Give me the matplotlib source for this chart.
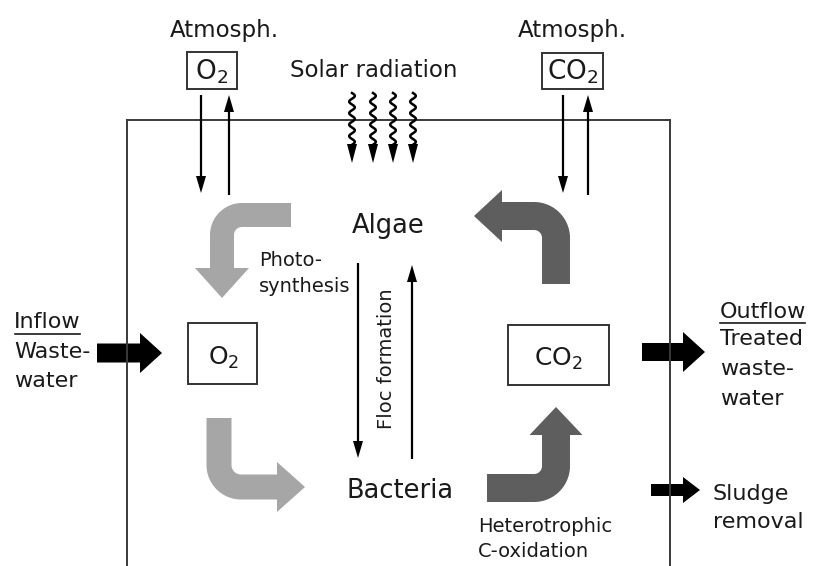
import numpy as np
import matplotlib
matplotlib.use("Agg")
import matplotlib.pyplot as plt
from matplotlib.patches import Polygon, Rectangle

# ---- diagram texts ----
atm_labels = ["Atmosph.", "Atmosph."]
atm_gases = ["O$_2$", "CO$_2$"]
solar_label = "Solar radiation"
organisms = ["Algae", "Bacteria"]
pool_gases = ["O$_2$", "CO$_2$"]
photo_label = ["Photo-", "synthesis"]
floc_label = "Floc formation"
hetero_label = ["Heterotrophic", "C-oxidation"]
inflow_lines = ["Inflow", "Waste-", "water"]
outflow_lines = ["Outflow", "Treated", "waste-", "water"]
sludge_lines = ["Sludge", "removal"]

plt.rcParams['font.family'] = ['DejaVu Sans']
plt.rcParams['mathtext.fontset'] = 'dejavusans'

W, H = 817, 566
fig = plt.figure(figsize=(W / 100, H / 100), dpi=100)
ax = fig.add_axes([0, 0, 1, 1])
ax.set_xlim(0, W)
ax.set_ylim(H, 0)
ax.axis('off')

LIGHT = '#a6a6a6'
DARK = '#5e5e5e'
TXT = '#1a1a1a'


def bent_arrow(p0, corner, p1, width, head_w, head_len, r, color):
    p0, c, p1 = (np.array(p, float) for p in (p0, corner, p1))
    d1 = (c - p0) / np.linalg.norm(c - p0)
    d2 = (p1 - c) / np.linalg.norm(p1 - c)
    a = c - d1 * r
    b = c + d2 * r
    o = a + d2 * r
    va, vb = a - o, b - o
    ang_a = np.arctan2(va[1], va[0])
    ang_b = np.arctan2(vb[1], vb[0])
    dang = (ang_b - ang_a + np.pi) % (2 * np.pi) - np.pi
    t = np.linspace(0, 1, 40)
    angs = ang_a + dang * t
    arc = o + r * np.stack([np.cos(angs), np.sin(angs)], 1)
    tan_arc = np.sign(dang) * np.stack([-np.sin(angs), np.cos(angs)], 1)
    pts = np.vstack([p0, arc, p1])
    tans = np.vstack([d1, tan_arc, d2])
    nrm = np.stack([-tans[:, 1], tans[:, 0]], 1)
    left = pts + nrm * width / 2
    right = pts - nrm * width / 2
    n2 = np.array([-d2[1], d2[0]])
    head = [p1 + n2 * head_w / 2, p1 + d2 * head_len, p1 - n2 * head_w / 2]
    poly = np.vstack([left, head, right[::-1]])
    ax.add_patch(Polygon(poly, closed=True, fc=color, ec='none'))


def block_arrow(x0, tip, y, shaft_h, head_w, head_len, color='black'):
    xb = tip - head_len
    poly = [(x0, y - shaft_h / 2), (xb, y - shaft_h / 2), (xb, y - head_w / 2),
            (tip, y), (xb, y + head_w / 2), (xb, y + shaft_h / 2), (x0, y + shaft_h / 2)]
    ax.add_patch(Polygon(poly, closed=True, fc=color, ec='none'))


def thin_arrow(x, y_tail, y_tip, hw=5, hl=17, lw=1.6):
    s = np.sign(y_tip - y_tail)
    yb = y_tip - s * hl
    ax.plot([x, x], [y_tail, yb + s * 2], color='black', lw=lw, solid_capstyle='butt')
    ax.add_patch(Polygon([(x - hw, yb), (x, y_tip), (x + hw, yb)], closed=True,
                         fc='black', ec='none'))


def wavy_arrow(x0, y0, y1, tip):
    yy = np.linspace(y0, y1, 120)
    xx = x0 + 2.8 * np.sin(2 * np.pi * (yy - y0) / 11.5)
    ax.plot(xx, yy, color='black', lw=1.8)
    ax.add_patch(Polygon([(x0 - 5, y1 - 1), (x0, tip), (x0 + 5, y1 - 1)], closed=True,
                         fc='black', ec='none'))


# ---- pond outline ----
ax.plot([127, 127], [120, H + 5], color='#3a3a3a', lw=1.4)
ax.plot([670, 670], [120, H + 5], color='#3a3a3a', lw=1.4)
ax.plot([127, 670], [120, 120], color='#3a3a3a', lw=1.4)

# ---- atmosphere ----
ax.text(224, 37, atm_labels[0], ha='center', va='baseline', fontsize=16.5, color=TXT)
ax.text(572, 37, atm_labels[1], ha='center', va='baseline', fontsize=16.5, color=TXT)
ax.add_patch(Rectangle((187, 52), 50, 37, fill=False, ec='#333333', lw=1.4))
ax.add_patch(Rectangle((542, 53), 61, 36, fill=False, ec='#333333', lw=1.4))
ax.text(212, 79, atm_gases[0], ha='center', va='baseline', fontsize=19, color=TXT)
ax.text(572.5, 79, atm_gases[1], ha='center', va='baseline', fontsize=19, color=TXT)
ax.text(290, 77, solar_label, ha='left', va='baseline', fontsize=16.5, color=TXT)

# gas exchange arrows
thin_arrow(201, 95, 193)
thin_arrow(229, 195, 95)
thin_arrow(563, 95, 193)
thin_arrow(588, 195, 95)

# solar radiation waves
for xw in [352, 373, 393, 413]:
    wavy_arrow(xw, 93, 145, 163)

# ---- organisms ----
ax.text(388, 233, organisms[0], ha='center', va='baseline', fontsize=18.5, color=TXT)
ax.text(400, 498, organisms[1], ha='center', va='baseline', fontsize=18.5, color=TXT)

thin_arrow(358, 263, 458)
thin_arrow(412, 459, 265)
ax.text(387, 359, floc_label, ha='center', va='center', rotation=90, fontsize=14, color=TXT)

ax.text(259, 266, photo_label[0], ha='left', va='baseline', fontsize=14, color=TXT)
ax.text(259, 292, photo_label[1], ha='left', va='baseline', fontsize=14, color=TXT)
ax.text(478, 532, hetero_label[0], ha='left', va='baseline', fontsize=14, color=TXT)
ax.text(478, 557, hetero_label[1], ha='left', va='baseline', fontsize=14, color=TXT)

# ---- dissolved gas pools ----
ax.add_patch(Rectangle((188, 323), 69, 61, fill=False, ec='#333333', lw=1.4))
ax.add_patch(Rectangle((508, 325), 101, 60, fill=False, ec='#333333', lw=1.4))
ax.text(224, 365, pool_gases[0], ha='center', va='baseline', fontsize=18, color=TXT)
ax.text(558, 366, pool_gases[1], ha='center', va='baseline', fontsize=18, color=TXT)

# ---- curved process arrows ----
bent_arrow((291, 215), (222, 215), (222, 268), 24, 54, 30, 20, LIGHT)
bent_arrow((219, 418), (219, 487), (277, 487), 25, 50, 28, 22, LIGHT)
bent_arrow((556, 284), (556, 216), (502, 216), 28, 52, 28, 22, DARK)
bent_arrow((487, 488), (556, 488), (556, 435), 28, 53, 28, 22, DARK)

# ---- inflow / outflow ----
block_arrow(97, 162, 353, 19, 40, 22)
block_arrow(642, 705, 352, 18, 40, 22)
block_arrow(651, 700, 490, 12, 26, 17)

for txt, yb in zip(inflow_lines, [328, 358, 387]):
    ax.text(14, yb, txt, ha='left', va='baseline', fontsize=16, color=TXT)
ax.plot([15, 80], [334, 334], color=TXT, lw=1.2)

for txt, yb in zip(outflow_lines, [318, 345, 375, 405]):
    ax.text(720, yb, txt, ha='left', va='baseline', fontsize=16, color=TXT)
ax.plot([720, 805], [323, 323], color=TXT, lw=1.2)

for txt, yb in zip(sludge_lines, [500, 528]):
    ax.text(713, yb, txt, ha='left', va='baseline', fontsize=16, color=TXT)

fig.savefig('out.png', dpi=100)
